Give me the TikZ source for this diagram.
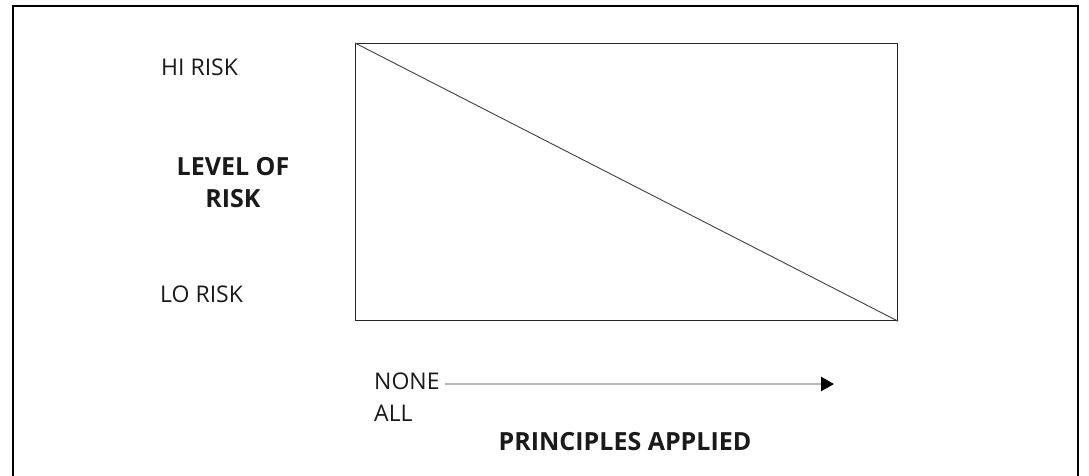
\documentclass[tikz,border=0pt]{standalone}
\usepackage{fontspec}
\setmainfont{Open Sans}
\usetikzlibrary{arrows.meta}
\definecolor{txt}{HTML}{1A1A1A}
\begin{document}
\begin{tikzpicture}[x=1pt,y=-1pt,
  lbl/.style={inner sep=0pt,text=txt,font=\fontsize{23}{32}\selectfont},
  blbl/.style={inner sep=0pt,text=txt,font=\fontsize{25}{32}\selectfont\bfseries},
  frame/.style={line width=2pt,draw=black},
  chart/.style={draw=black!85,line width=1.3pt},
  diag/.style={draw=black!75,line width=0.9pt},
  axis/.style={draw=black!28,line width=2.6pt,-{Triangle[length=13pt,width=14pt,color=black]}}]
\useasboundingbox (0,0) rectangle (1089,475);
\fill[white] (0,0) rectangle (1089,475);
% outer frame
\draw[frame] (13,476) -- (13,6) -- (1078,6) -- (1078,476);
% chart box
\node[chart,minimum width=542pt,minimum height=277pt,inner sep=0pt,anchor=north west] (box) at (355,43) {};
\draw[diag] (box.north west) -- (box.south east);
% labels
\node[lbl,anchor=base west] (hi) at (161,75) {HI RISK};
\node[lbl,anchor=base west] (lo) at (160,302) {LO RISK};
\node[blbl,anchor=base] (lev) at (233,175) {LEVEL OF};
\node[blbl,anchor=base] (risk) at (233,207) {RISK};
\node[lbl,anchor=base west] (none) at (374,389) {NONE};
\node[lbl,anchor=base west] (all) at (374,421) {ALL};
\node[blbl,anchor=base] (pa) at (625,450) {PRINCIPLES APPLIED};
% axis arrow
\coordinate (as) at (445,384);
\coordinate (ae) at (834,384);
\draw[axis] (as) -- (ae);
\end{tikzpicture}
\end{document}
